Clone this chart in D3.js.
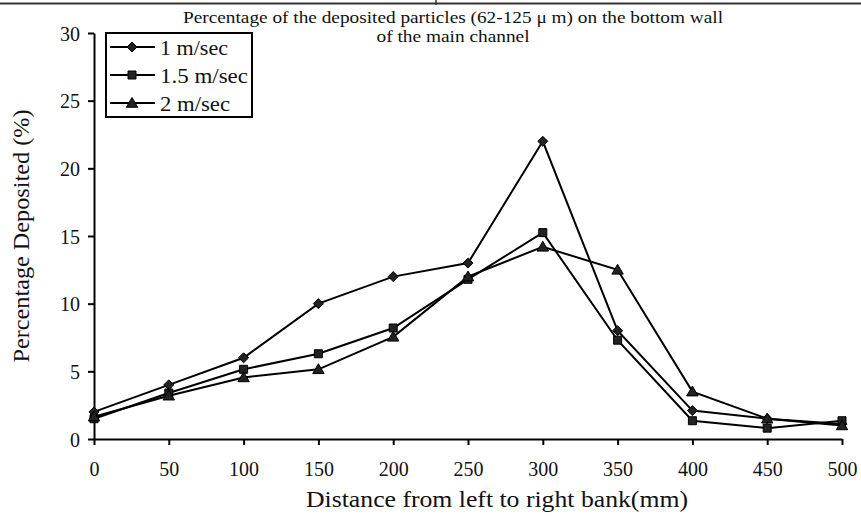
<!DOCTYPE html>
<html>
<head>
<meta charset="utf-8">
<script src="https://cdn.jsdelivr.net/npm/d3@7"></script>
<style>
  html, body { margin: 0; padding: 0; background: #fff; }
  svg { display: block; }
  svg text { font-family: "Liberation Serif", "Times New Roman", serif; }
</style>
</head>
<body>
<div id="chart"></div>
<script>
// ---------- Data ----------
const distances = [0, 50, 100, 150, 200, 250, 300, 350, 400, 450, 500];
const v1 = [2.0, 4.0, 6.0, 10.0, 12.0, 13.0, 22.0, 8.0, 2.1, 1.5, 1.1];      // 1 m/sec
const v15 = [1.5, 3.4, 5.15, 6.3, 8.2, 11.8, 15.25, 7.3, 1.35, 0.8, 1.35];    // 1.5 m/sec
const v2 = [1.65, 3.2, 4.55, 5.15, 7.55, 12.0, 14.2, 12.5, 3.5, 1.5, 1.0];    // 2 m/sec
const seriesNames = ["1 m/sec", "1.5 m/sec", "2 m/sec"];
const yTicks = [0, 5, 10, 15, 20, 25, 30];
const xTicks = [0, 50, 100, 150, 200, 250, 300, 350, 400, 450, 500];

const W = 861, H = 516;
const margin = { left: 94, right: 19, top: 33, bottom: 77 };
const SERIF = "'Liberation Serif', 'Times New Roman', serif";

const svg = d3.select("#chart").append("svg").attr("width", W).attr("height", H);

const x = d3.scaleLinear().domain([0, 500]).range([margin.left, W - margin.right]);
const y = d3.scaleLinear().domain([0, 30]).range([H - margin.bottom, margin.top]);

// frame remnants at top of the cropped figure
svg.append("line").attr("x1", 0).attr("x2", W).attr("y1", 3.5).attr("y2", 3.5)
  .attr("stroke", "#333").attr("stroke-width", 2);
svg.append("line").attr("x1", 436).attr("x2", 436).attr("y1", 0).attr("y2", 5)
  .attr("stroke", "#333").attr("stroke-width", 1.5);

// title (two lines)
const title = svg.append("text").attr("text-anchor", "middle")
  .style("font-family", SERIF).style("font-size", "17px").attr("fill", "#111");
title.append("tspan").attr("x", 453).attr("y", 23)
  .attr("textLength", 540).attr("lengthAdjust", "spacingAndGlyphs")
  .text("Percentage of the deposited particles (62-125 \u03bc m) on the bottom wall");
title.append("tspan").attr("x", 453).attr("y", 42)
  .attr("textLength", 153).attr("lengthAdjust", "spacingAndGlyphs")
  .text("of the main channel");

// axes
const yAxis = svg.append("g")
  .attr("transform", `translate(${margin.left},0)`)
  .call(d3.axisLeft(y).tickValues(yTicks).tickSize(6).tickSizeOuter(0).tickPadding(8));
const xAxis = svg.append("g")
  .attr("transform", `translate(0,${y(0)})`)
  .call(d3.axisBottom(x).tickValues(xTicks).tickSize(6).tickSizeOuter(0).tickPadding(17));

[xAxis, yAxis].forEach(g => {
  g.attr("font-family", null).attr("font-size", null);
  g.select(".domain").attr("stroke", "#000").attr("stroke-width", 2);
  g.selectAll(".tick line").attr("stroke", "#000").attr("stroke-width", 2);
  g.selectAll(".tick text").attr("fill", "#111")
    .style("font-size", "20px").style("font-family", SERIF);
});
yAxis.selectAll(".tick text").attr("dy", "0.35em");

// axis titles
svg.append("text")
  .attr("x", 497).attr("y", 507).attr("text-anchor", "middle")
  .attr("textLength", 382).attr("lengthAdjust", "spacingAndGlyphs")
  .style("font-family", SERIF).style("font-size", "24px").attr("fill", "#111")
  .text("Distance from left to right bank(mm)");
svg.append("text")
  .attr("transform", "translate(29,236) rotate(-90)").attr("text-anchor", "middle")
  .attr("textLength", 253).attr("lengthAdjust", "spacingAndGlyphs")
  .style("font-family", SERIF).style("font-size", "24px").attr("fill", "#111")
  .text("Percentage Deposited (%)");

// series
const symbols = [d3.symbolDiamond2, d3.symbolSquare, d3.symbolTriangle];
const symSizes = [64, 64, 56];
const allSeries = [v1, v15, v2].map((vals, i) => ({
  name: seriesNames[i],
  sym: d3.symbol(symbols[i], symSizes[i]),
  pts: vals.map((v, j) => ({ x: distances[j], y: v }))
}));

const line = d3.line().x(d => x(d.x)).y(d => y(d.y));

allSeries.forEach(s => {
  svg.append("path").datum(s.pts)
    .attr("d", line).attr("fill", "none")
    .attr("stroke", "#000").attr("stroke-width", 2);
});
allSeries.forEach((s, i) => {
  svg.append("g").selectAll("path")
    .data(s.pts).join("path")
      .attr("d", s.sym)
      .attr("transform", d => `translate(${x(d.x)},${y(d.y) + (i === 2 ? 1 : 0)})`)
      .attr("fill", "#222").attr("stroke", "#000").attr("stroke-width", 1);
});

// legend
const lg = svg.append("g");
lg.append("rect").attr("x", 106).attr("y", 33).attr("width", 146).attr("height", 84)
  .attr("fill", "#fff").attr("stroke", "#000").attr("stroke-width", 2);
const rowY = [47, 75, 103];
const legendW = [68, 88, 70];
allSeries.forEach((s, i) => {
  lg.append("line").attr("x1", 110).attr("x2", 155).attr("y1", rowY[i]).attr("y2", rowY[i])
    .attr("stroke", "#000").attr("stroke-width", 2);
  lg.append("path").attr("d", s.sym).attr("transform", `translate(132,${rowY[i] + (i === 2 ? 1 : 0)})`)
    .attr("fill", "#222").attr("stroke", "#000").attr("stroke-width", 1);
  lg.append("text").attr("x", 160).attr("y", rowY[i]).attr("dy", "0.35em")
    .attr("textLength", legendW[i]).attr("lengthAdjust", "spacingAndGlyphs")
    .style("font-family", SERIF).style("font-size", "22px").attr("fill", "#111").text(s.name);
});
</script>
</body>
</html>
